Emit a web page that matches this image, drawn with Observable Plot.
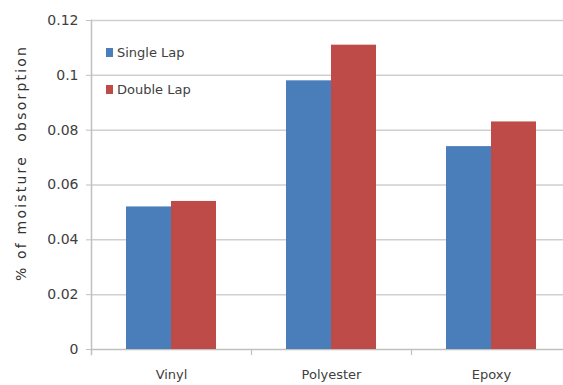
<!DOCTYPE html>
<html>
<head>
<meta charset="utf-8">
<script src="https://cdn.jsdelivr.net/npm/d3@7"></script>
<script src="https://cdn.jsdelivr.net/npm/@observablehq/plot@0.6"></script>
<style>
  html, body { margin: 0; padding: 0; background: #fff; }
  #chart { position: relative; width: 563px; height: 385px; overflow: hidden; font-family: "DejaVu Sans", sans-serif; color: #404040; }
  #chart svg { display: block; }
  .ytitle {
    position: absolute; left: 21px; top: 163px;
    transform: translate(-50%, -50%) rotate(-90deg);
    white-space: pre; font-size: 14px; letter-spacing: 2.2px; color: #333;
  }
  .legend { position: absolute; left: 106px; top: 43px; font-size: 13px; color: #404040; }
  .legend .row { display: flex; align-items: center; height: 18px; margin-bottom: 19px; }
  .legend .sw { width: 7px; height: 9px; margin-right: 4px; }
</style>
</head>
<body>
<div id="chart"></div>
<script>
// Moisture absorption by resin type, single vs double lap joints
const categories = ["Vinyl", "Polyester", "Epoxy"];
const series = ["Single Lap", "Double Lap"];
const singleLap = [0.052, 0.098, 0.074];
const doubleLap = [0.054, 0.111, 0.083];
const yTicks = [0, 0.02, 0.04, 0.06, 0.08, 0.1, 0.12];
const seriesColors = ["#4a7ebb", "#be4b48"];
const yTitle = "% of moisture  obsorption";

const rows = categories.flatMap((c, i) => [
  {category: c, series: series[0], value: singleLap[i]},
  {category: c, series: series[1], value: doubleLap[i]}
]);

const axisGray = "#c0c0c0";

const plot = Plot.plot({
  width: 563,
  height: 385,
  marginLeft: 91,
  marginRight: 0,
  marginTop: 20,
  marginBottom: 36,
  style: {fontFamily: "DejaVu Sans, sans-serif", fontSize: "13px", color: "#404040", background: "white"},
  fx: {domain: categories, range: [91, 571], padding: 0, label: null},
  x: {domain: series, paddingInner: 0, paddingOuter: 0.758, axis: null},
  y: {domain: [0, 0.12], label: null},
  color: {domain: series, range: seriesColors},
  marks: [
    Plot.gridY(yTicks.slice(1), {stroke: "#cfcfcf", strokeOpacity: 1, strokeWidth: 1.5}),
    Plot.ruleY([0], {stroke: axisGray, strokeWidth: 1.5}),
    // category boundary tick marks below the baseline
    Plot.frame({anchor: "right", stroke: axisGray, strokeWidth: 1.2, insetTop: 329, insetBottom: -5}),
    // value axis line
    Plot.frame({anchor: "left", facet: "super", stroke: axisGray, strokeWidth: 1.5, insetBottom: -5}),
    Plot.barY(rows, {fx: "category", x: "series", y: "value", fill: "series"}),
    Plot.axisY(yTicks, {tickSize: 5, tickPadding: 8, tickFormat: d => String(d), stroke: axisGray, fontSize: 14, label: null}),
    Plot.axisFx({anchor: "bottom", tickSize: 0, tickPadding: 20, label: null, fontSize: 13})
  ]
});

const chart = document.getElementById("chart");
chart.appendChild(plot);

// Axis title
const title = document.createElement("div");
title.className = "ytitle";
title.textContent = yTitle;
chart.appendChild(title);

// Legend built from the plot's color scale
const color = plot.scale("color");
const legend = document.createElement("div");
legend.className = "legend";
series.forEach(s => {
  const row = document.createElement("div");
  row.className = "row";
  const sw = document.createElement("span");
  sw.className = "sw";
  sw.style.background = color.apply(s);
  const label = document.createElement("span");
  label.textContent = s;
  row.append(sw, label);
  legend.appendChild(row);
});
chart.appendChild(legend);
</script>
</body>
</html>
